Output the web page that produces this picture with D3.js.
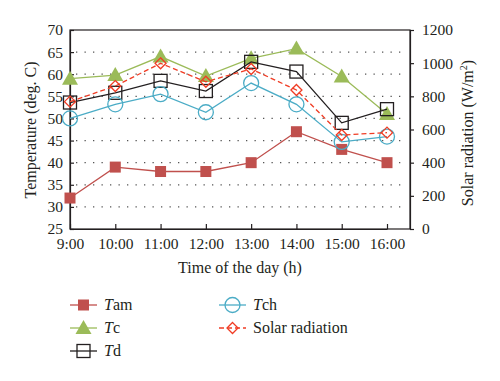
<!DOCTYPE html>
<html>
<head>
<meta charset="utf-8">
<script src="https://cdn.jsdelivr.net/npm/d3@7"></script>
<style>
  body { margin: 0; background: #fff; }
  text { font-family: "Liberation Serif", "DejaVu Serif", serif; fill: #231f20; }
</style>
</head>
<body>
<div id="container"></div>
<script>
const hours = ["9:00", "10:00", "11:00", "12:00", "13:00", "14:00", "15:00", "16:00"];
const tam = [32, 39, 38, 38, 40, 47, 43, 40];
const tc = [59, 59.8, 64, 59.6, 63.6, 65.8, 59.5, 51];
const td = [53.6, 55.8, 58.5, 56.2, 62.8, 60.6, 49, 52.1];
const tch = [50, 53.2, 55.5, 51.4, 58, 53.2, 44.7, 45.9];
const solar = [768, 862, 999, 888, 965, 838, 567, 581];
const leftTicks = [25, 30, 35, 40, 45, 50, 55, 60, 65, 70];
const rightTicks = [0, 200, 400, 600, 800, 1000, 1200];

const width = 500, height = 381;
const padLeft = 70, padRight = 410, padTop = 30, padBottom = 229;

const svg = d3.select("#container").append("svg")
  .attr("width", width).attr("height", height);

const xScale = d3.scalePoint().domain(hours).range([padLeft, 387]);
const yScale = d3.scaleLinear().domain([25, 70]).range([padBottom, padTop]);
const y2Scale = d3.scaleLinear().domain([0, 1200]).range([padBottom, padTop]);

// dotted grid
svg.append("g").selectAll("line")
  .data(leftTicks.filter(d => d > 25 && d < 70))
  .enter().append("line")
  .attr("x1", padLeft + 6).attr("x2", padRight - 4)
  .attr("y1", d => yScale(d)).attr("y2", d => yScale(d))
  .attr("stroke", "#555").attr("stroke-width", 1.3)
  .attr("stroke-dasharray", "1.3,7.2");

// frame
svg.append("rect")
  .attr("x", padLeft).attr("y", padTop)
  .attr("width", padRight - padLeft).attr("height", padBottom - padTop)
  .attr("fill", "none").attr("stroke", "#231f20").attr("stroke-width", 1.2);

const xAxis = svg.append("g")
  .attr("transform", `translate(0,${padBottom})`)
  .call(d3.axisBottom(xScale).tickSizeInner(-5).tickSizeOuter(0).tickPadding(9));
const yAxis = svg.append("g")
  .attr("transform", `translate(${padLeft},0)`)
  .call(d3.axisLeft(yScale).tickValues(leftTicks).tickSizeInner(-4).tickSizeOuter(0).tickPadding(7));
const y2Axis = svg.append("g")
  .attr("transform", `translate(${padRight},0)`)
  .call(d3.axisRight(y2Scale).tickValues(rightTicks).tickFormat(d3.format("d"))
    .tickSizeInner(4).tickSizeOuter(0).tickPadding(8));

[xAxis, yAxis, y2Axis].forEach(a => {
  a.select(".domain").attr("stroke", "#231f20").attr("stroke-width", 1.2);
  a.selectAll(".tick line").attr("stroke", "#231f20").attr("stroke-width", 1.2);
  a.selectAll("text").attr("font-size", 15.5).attr("fill", "#231f20")
    .style("font-family", '"Liberation Serif", serif');
});

svg.append("text")
  .attr("x", 240).attr("y", 273)
  .attr("text-anchor", "middle").attr("font-size", 16)
  .text("Time of the day (h)");

svg.append("text")
  .attr("transform", "translate(36,130) rotate(-90)")
  .attr("text-anchor", "middle").attr("font-size", 16)
  .text("Temperature (deg. C)");

const rt = svg.append("text")
  .attr("transform", "translate(473,133) rotate(-90)")
  .attr("text-anchor", "middle").attr("font-size", 16);
rt.append("tspan").text("Solar radiation (W/m");
rt.append("tspan").attr("dy", -6).attr("font-size", 10).text("2");
rt.append("tspan").attr("dy", 6).text(")");

const series = [
  { name: "Tam", values: tam, scale: yScale, color: "#c0504d", dash: null, marker: "fsquare" },
  { name: "Tc", values: tc, scale: yScale, color: "#9bbb59", dash: null, marker: "triangle" },
  { name: "Td", values: td, scale: yScale, color: "#231f20", dash: null, marker: "osquare" },
  { name: "Tch", values: tch, scale: yScale, color: "#4bacc6", dash: null, marker: "circle" },
  { name: "Solar", values: solar, scale: y2Scale, color: "#f03c24", dash: "5,3", marker: "diamond" }
];

function drawMarker(g, type, color) {
  if (type === "fsquare") {
    g.append("rect").attr("x", -5.5).attr("y", -5.5).attr("width", 11).attr("height", 11)
      .attr("fill", color);
  } else if (type === "triangle") {
    g.append("path").attr("d", "M0,-8L8,6L-8,6Z").attr("fill", color);
  } else if (type === "osquare") {
    g.append("rect").attr("x", -6.5).attr("y", -6.5).attr("width", 13).attr("height", 13)
      .attr("fill", "none").attr("stroke", color).attr("stroke-width", 1.3);
  } else if (type === "circle") {
    g.append("circle").attr("r", 7.5).attr("fill", "none").attr("stroke", color).attr("stroke-width", 1.3);
  } else if (type === "diamond") {
    g.append("path").attr("d", "M0,-5.5L5.5,0L0,5.5L-5.5,0Z")
      .attr("fill", "none").attr("stroke", color).attr("stroke-width", 1.3);
  }
}

series.forEach(s => {
  const line = d3.line().x((d, i) => xScale(hours[i])).y(d => s.scale(d));
  svg.append("path").datum(s.values)
    .attr("d", line).attr("fill", "none")
    .attr("stroke", s.color).attr("stroke-width", 1.3)
    .attr("stroke-dasharray", s.dash);
  s.values.forEach((v, i) => {
    const g = svg.append("g").attr("transform", `translate(${xScale(hours[i])},${s.scale(v)})`);
    drawMarker(g, s.marker, s.color);
  });
});

// legend
const legendItems = [
  { s: series[0], x: 70, y: 305, label: "am" },
  { s: series[1], x: 70, y: 328, label: "c" },
  { s: series[2], x: 70, y: 351, label: "d" },
  { s: series[3], x: 219, y: 305, label: "ch" },
  { s: series[4], x: 219, y: 328, label: "Solar radiation" }
];
legendItems.forEach(it => {
  const g = svg.append("g");
  g.append("line").attr("x1", it.x).attr("x2", it.x + 27)
    .attr("y1", it.y).attr("y2", it.y)
    .attr("stroke", it.s.color).attr("stroke-width", 1.3)
    .attr("stroke-dasharray", it.s.dash);
  const m = g.append("g").attr("transform", `translate(${it.x + 13.5},${it.y})`);
  drawMarker(m, it.s.marker, it.s.color);
  const t = g.append("text").attr("x", it.x + 34).attr("y", it.y + 5).attr("font-size", 16);
  if (it.s.name === "Solar") {
    t.text(it.label);
  } else {
    t.append("tspan").attr("font-style", "italic").text("T");
    t.append("tspan").text(it.label);
  }
});
</script>
</body>
</html>
